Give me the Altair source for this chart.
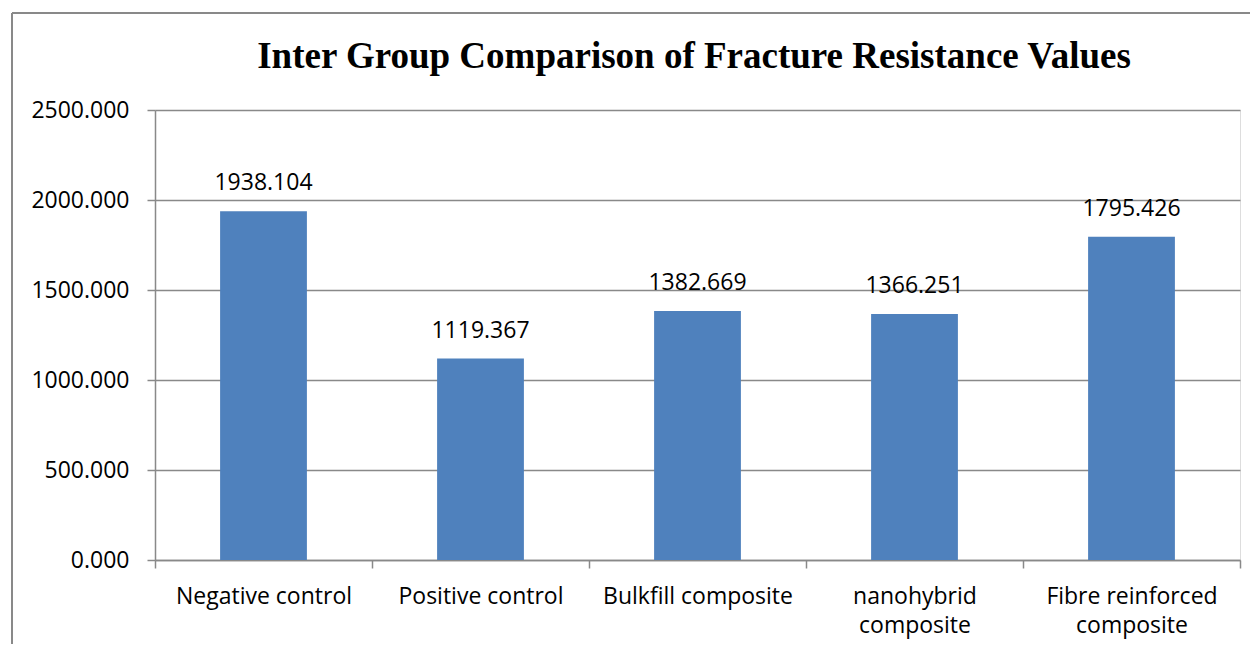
import altair as alt
import pandas as pd

groups = ["Negative control", "Positive control", "Bulkfill composite",
          "nanohybrid\ncomposite", "Fibre reinforced\ncomposite"]
values = [1938.104, 1119.367, 1382.669, 1366.251, 1795.426]
y_ticks = [0, 500, 1000, 1500, 2000, 2500]
title_text = "Inter Group Comparison of Fracture Resistance Values"

df = pd.DataFrame({"group": groups, "value": values,
                   "label": [f"{v:.3f}" for v in values]})

LABEL_FONT = "Open Sans"
FS = 23
GREY = "#898989"

x_enc = alt.X("group:N", sort=None,
              scale=alt.Scale(paddingInner=0, paddingOuter=0),
              axis=alt.Axis(title=None, labelAngle=0, labelFont=LABEL_FONT,
                            labelFontSize=FS, labelColor="#000000",
                            labelExpr="split(datum.label, '\\n')",
                            labelLineHeight=29, labelPadding=17,
                            tickBand="extent", tickSize=8, tickColor=GREY,
                            tickWidth=1.5, domainColor=GREY, domainWidth=1.5,
                            labelLimit=300))
y_enc = alt.Y("value:Q",
              scale=alt.Scale(domain=[0, 2500], nice=False),
              axis=alt.Axis(title=None, values=y_ticks, format=".3f",
                            labelFont=LABEL_FONT, labelFontSize=FS,
                            labelColor="#000000", labelPadding=18,
                            tickSize=8, tickColor=GREY, tickWidth=1.5,
                            domainColor=GREY, domainWidth=1.5,
                            grid=True, gridColor=GREY, gridWidth=1.5))

bars = alt.Chart(df).mark_bar(color="#4F81BD",
                              width=alt.RelativeBandSize(0.4)).encode(x=x_enc, y=y_enc)

labels = alt.Chart(df).mark_text(font=LABEL_FONT, fontSize=FS, color="#000000",
                                 baseline="bottom", dy=-16).encode(
    x=alt.X("group:N", sort=None), y="value:Q", text="label:N")

frame_df = pd.DataFrame({"k": [0]})
frame_left = alt.Chart(frame_df).mark_rule(color=GREY, strokeWidth=2, clip=False).encode(
    x=alt.value(-143), y=alt.value(-97), y2=alt.value(640))
frame_top = alt.Chart(frame_df).mark_rule(color=GREY, strokeWidth=2, clip=False).encode(
    x=alt.value(-143), x2=alt.value(1200), y=alt.value(-97))

title_df = pd.DataFrame({"t": [title_text]})
title = alt.Chart(title_df).mark_text(font="Liberation Serif", fontSize=37,
                                      fontWeight="bold", color="#000000",
                                      baseline="alphabetic", align="center",
                                      clip=False).encode(
    x=alt.value(539), y=alt.value(-42), text="t:N")

chart = alt.layer(frame_left, frame_top, bars, labels, title).properties(
    width=1085, height=450,
    autosize=alt.AutoSizeParams(type="none"),
    padding={"left": 147, "top": 102, "right": 10, "bottom": 84},
).configure_view(stroke=None).configure(background="#ffffff")

chart.save("out.html", embed_options={"renderer": "svg", "actions": False})
